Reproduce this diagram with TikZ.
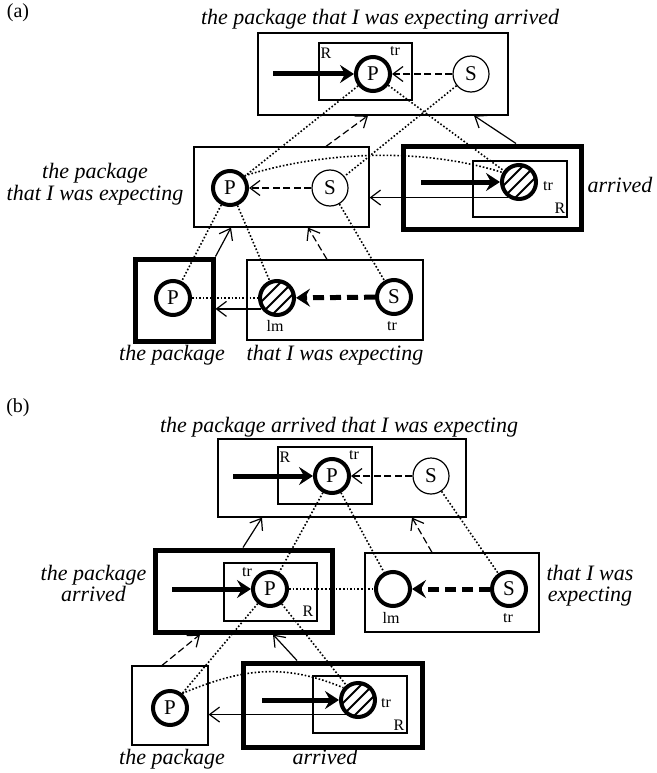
\documentclass[tikz,border=0pt]{standalone}
\usepackage{fontspec}
\setmainfont{Liberation Serif}
\usetikzlibrary{arrows.meta}
\begin{document}
\begin{tikzpicture}[x=1pt,y=-1pt,
  thinbox/.style={draw, rectangle, line width=1.2pt, inner sep=0pt},
  thickbox/.style={draw, rectangle, line width=5pt, inner sep=0pt, outer sep=2.5pt},
  rbox/.style={draw, rectangle, line width=1.2pt, inner sep=0pt},
  thickc/.style={draw, circle, fill=white, line width=4pt, minimum size=34pt, inner sep=0pt, font=\fontsize{21}{21}\selectfont},
  thinc/.style={draw, circle, fill=white, line width=1.2pt, minimum size=36pt, inner sep=0pt, font=\fontsize{21}{21}\selectfont},
  hatched/.style={path picture={\foreach \k in {-12,0,12}{\draw[line width=1.8pt] ([xshift=\k pt]path picture bounding box.center) ++(-30pt,-30pt) -- ++(60pt,60pt);}}},
  lab/.style={font=\fontsize{22}{22}\selectfont\itshape, inner sep=0pt, anchor=base},
  smalllab/.style={font=\fontsize{16}{16}\selectfont, inner sep=0pt},
  tag/.style={font=\fontsize{20}{20}\selectfont, inner sep=0pt},
  dotline/.style={line width=1.6pt, dash pattern=on 1.6pt off 2pt},
  thinarrow/.style={line width=1.2pt, -{Straight Barb[length=10pt,width=15pt]}},
  dasharrow/.style={thinarrow, dash pattern=on 7pt off 3.5pt},
  thickarrow/.style={line width=5pt, -{Stealth[length=14pt,width=18pt,inset=5pt]}},
  thickdash/.style={thickarrow, dash pattern=on 11pt off 6pt}
]
\useasboundingbox (0,0) rectangle (656,773);

% ---------------- (a) ----------------
\node[tag] (la) at (18,13) {(a)};
\node[lab] (ta) at (380,25) {the package that I was expecting arrived};

% top box
\node[thinbox, minimum width=250pt, minimum height=82pt] (A0) at (383,74) {};
\node[rbox, minimum width=93pt, minimum height=57pt] (A0R) at (365.5,71.5) {};
\node[thickc] (A0P) at (373,74) {P};
\node[thinc] (A0S) at (471,74) {S};
\coordinate (A0in) at (273,74);
\draw[thickarrow] (A0in) -- (A0P);
\draw[dasharrow] (A0S) -- (A0P);
\node[smalllab] (A0r) at (326,53) {R};
\node[smalllab] (A0t) at (395,51) {tr};

% middle left box
\node[thinbox, minimum width=175pt, minimum height=80pt] (A1) at (281.5,187) {};
\node[thickc] (A1P) at (230,188) {P};
\node[thinc] (A1S) at (330,188) {S};
\draw[dasharrow] (A1S) -- (A1P);
\node[lab] (A1la) at (95,178) {the package};
\node[lab] (A1lb) at (95,200) {that I was expecting};

% middle right box
\node[thickbox, minimum width=178pt, minimum height=83pt] (A2) at (492,187.5) {};
\node[rbox, minimum width=94pt, minimum height=56pt] (A2R) at (520,189) {};
\node[thickc, hatched] (A2H) at (519,182) {};
\coordinate (A2in) at (421,182);
\draw[thickarrow] (A2in) -- (A2H);
\node[smalllab] (A2t) at (548,186) {tr};
\node[smalllab] (A2r) at (560,208) {R};
\node[lab] (A2lab) at (620,192) {arrived};

% bottom left box
\node[thickbox, minimum width=78pt, minimum height=82pt] (A3) at (174,300) {};
\node[thickc] (A3P) at (173,298) {P};
\node[lab] (A3lab) at (172,360) {the package};

% bottom right box
\node[thinbox, minimum width=176pt, minimum height=80pt] (A4) at (335,300) {};
\node[thickc, hatched] (A4L) at (277,298) {};
\node[thickc] (A4S) at (394,297) {S};
\draw[thickdash] (A4S) -- (A4L);
\node[smalllab] (A4l) at (275,326) {lm};
\node[smalllab] (A4t) at (392,326) {tr};
\node[lab] (A4lab) at (335,360) {that I was expecting};

% connections (a)
\draw[dotline] (A0P) -- (A1P);
\draw[dotline] (A0P) -- (A2H);
\draw[dotline] (A0S) -- (A1S);
\draw[dotline] (A1P) -- (A3P);
\draw[dotline] (A1P) -- (A4L);
\draw[dotline] (A1S) -- (A4S);
\draw[dotline] (A3P) -- (A4L);
\draw[dotline] (A1P.40) .. controls +(80,-25) and +(-80,-25) .. (A2H.150);
\draw[dasharrow] ([xshift=44.5pt]A1.north) -- ([xshift=-15pt]A0.south);
\draw[thinarrow] ([xshift=24pt]A2.north) -- ([xshift=91pt]A0.south);
\draw[thinarrow] (A3.north east) -- ([xshift=-50.5pt]A1.south);
\draw[dasharrow] ([xshift=-8pt]A4.north) -- ([xshift=26.5pt]A1.south);
\draw[thinarrow] (A2H.235) -- (A2H.235 -| A1.east);
\draw[thinarrow] (A4L.215) -- (A4L.215 -| A3.east);

% ---------------- (b) ----------------
\node[tag] (lb) at (18,408) {(b)};
\node[lab] (tb) at (339,432) {the package arrived that I was expecting};

% top box
\node[thinbox, minimum width=248pt, minimum height=78pt] (B0) at (342,478) {};
\node[rbox, minimum width=94pt, minimum height=57pt] (B0R) at (325,475.5) {};
\node[thickc] (B0P) at (332,476) {P};
\node[thinc] (B0S) at (431,476) {S};
\coordinate (B0in) at (233,476);
\draw[thickarrow] (B0in) -- (B0P);
\draw[dasharrow] (B0S) -- (B0P);
\node[smalllab] (B0r) at (285,457) {R};
\node[smalllab] (B0t) at (354,455) {tr};

% middle left box
\node[thickbox, minimum width=177pt, minimum height=82pt] (B1) at (243.5,591) {};
\node[rbox, minimum width=93pt, minimum height=58pt] (B1R) at (270.5,592) {};
\node[thickc] (B1P) at (270,589) {P};
\coordinate (B1in) at (172,589);
\draw[thickarrow] (B1in) -- (B1P);
\node[smalllab] (B1t) at (247,572) {tr};
\node[smalllab] (B1r) at (308,611) {R};
\node[lab] (B1la) at (93.5,580) {the package};
\node[lab] (B1lb) at (93.5,601) {arrived};

% middle right box
\node[thinbox, minimum width=174pt, minimum height=79pt] (B2) at (452,592.5) {};
\node[thickc] (B2L) at (393,589) {};
\node[thickc] (B2S) at (509,589) {S};
\draw[thickdash] (B2S) -- (B2L);
\node[smalllab] (B2l) at (391,618) {lm};
\node[smalllab] (B2t) at (508,618) {tr};
\node[lab] (B2la) at (590,580) {that I was};
\node[lab] (B2lb) at (590,601) {expecting};

% bottom left box
\node[thinbox, minimum width=76pt, minimum height=79pt] (B3) at (170,705.5) {};
\node[thickc] (B3P) at (170,708) {P};
\node[lab] (B3lab) at (172,764) {the package};

% bottom right box
\node[thickbox, minimum width=179pt, minimum height=84pt] (B4) at (332.5,705) {};
\node[rbox, minimum width=94pt, minimum height=57pt] (B4R) at (360,704.5) {};
\node[thickc, hatched] (B4H) at (358,700) {};
\coordinate (B4in) at (262,700);
\draw[thickarrow] (B4in) -- (B4H);
\node[smalllab] (B4t) at (386,703) {tr};
\node[smalllab] (B4r) at (399,725) {R};
\node[lab] (B4lab) at (325,764) {arrived};

% connections (b)
\draw[dotline] (B0P) -- (B1P);
\draw[dotline] (B0P) -- (B2L);
\draw[dotline] (B0S) -- (B2S);
\draw[dotline] (B1P) -- (B2L);
\draw[dotline] (B1P) -- (B3P);
\draw[dotline] (B1P) -- (B4H);
\draw[dotline] (B3P.50) .. controls +(60,-25) and +(-60,-25) .. (B4H.140);
\draw[thinarrow] ([xshift=-0.5pt]B1.north) -- ([xshift=-80pt]B0.south);
\draw[dasharrow] ([xshift=-20pt]B2.north) -- ([xshift=70pt]B0.south);
\draw[dasharrow] ([xshift=-8pt]B3.north) -- ([xshift=-43.5pt]B1.south);
\draw[thinarrow] ([xshift=-35.5pt]B4.north) -- ([xshift=29.5pt]B1.south);
\draw[thinarrow] (B4H.230) -- (B4H.230 -| B3.east);
\end{tikzpicture}
\end{document}
